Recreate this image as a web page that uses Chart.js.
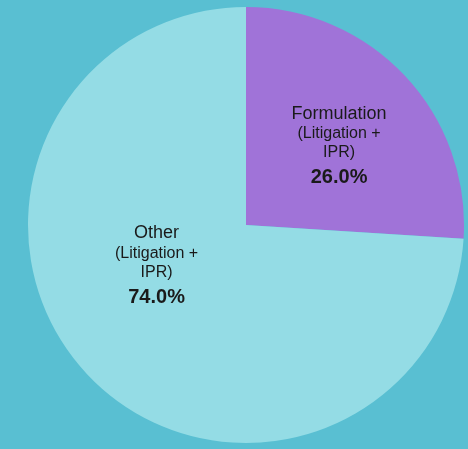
<!DOCTYPE html>
<html>
<head>
<meta charset="utf-8">
<script src="https://cdn.jsdelivr.net/npm/chart.js@4"></script>
<style>
    html, body { margin: 0; padding: 0; background: #59BFD2; }
    #grafico { display: block; }
</style>
</head>
<body>
<canvas id="grafico" width="468" height="449"></canvas>
<script>
// Dados do gráfico
const categorias = ['Formulation', 'Other'];
const subtitulos = ['(Litigation +', 'IPR)'];
const valores = [26.0, 74.0];
const cores = ['#A073D8', '#94DCE5'];

// Ajuste da posição dos rótulos (fração do raio e desvio do ângulo)
const fracaoRaio = [0.56, 0.45];
const desvioAngulo = [0.05, 0.33];

// Plugin para escrever os rótulos dentro das fatias
const rotulosPlugin = {
    id: 'rotulos',
    afterDatasetsDraw(chart) {
        const ctx = chart.ctx;
        const meta = chart.getDatasetMeta(0);
        meta.data.forEach((arc, i) => {
            const p = arc.getProps(['x', 'y', 'startAngle', 'endAngle', 'outerRadius']);
            const meio = (p.startAngle + p.endAngle) / 2 + desvioAngulo[i];
            const r = p.outerRadius * fracaoRaio[i];
            const cx = p.x + Math.cos(meio) * r;
            const cy = p.y + Math.sin(meio) * r;
            ctx.save();
            ctx.fillStyle = '#1a1a1a';
            ctx.textAlign = 'center';
            ctx.textBaseline = 'middle';
            ctx.font = '18px "Liberation Sans", Arial, sans-serif';
            ctx.fillText(categorias[i], cx, cy - 32);
            ctx.font = '16px "Liberation Sans", Arial, sans-serif';
            ctx.fillText(subtitulos[0], cx, cy - 12);
            ctx.fillText(subtitulos[1], cx, cy + 7);
            ctx.font = 'bold 20px "Liberation Sans", Arial, sans-serif';
            ctx.fillText(valores[i].toFixed(1) + '%', cx, cy + 32);
            ctx.restore();
        });
    }
};

new Chart(document.getElementById('grafico').getContext('2d'), {
    type: 'pie',
    data: {
        labels: categorias,
        datasets: [{
            data: valores,
            backgroundColor: cores,
            borderWidth: 0
        }]
    },
    options: {
        responsive: false,
        animation: false,
        layout: { padding: { top: 7, bottom: 6, left: 28, right: 4 } },
        plugins: {
            legend: { display: false },
            tooltip: { enabled: false }
        }
    },
    plugins: [rotulosPlugin]
});
</script>
</body>
</html>
